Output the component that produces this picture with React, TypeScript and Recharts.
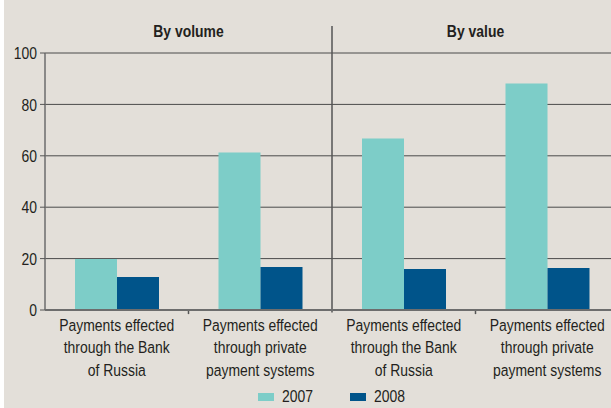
import type { FC } from "react"
import {
  Bar,
  BarChart,
  CartesianGrid,
  Legend,
  ReferenceLine,
  XAxis,
  YAxis,
} from "recharts"

const categories = [
  "Payments effected\nthrough the Bank\nof Russia",
  "Payments effected\nthrough private\npayment systems",
  "Payments effected\nthrough the Bank\nof Russia",
  "Payments effected\nthrough private\npayment systems",
]
const values2007 = [19.8, 61.3, 66.7, 88.1]
const values2008 = [12.8, 16.7, 16.0, 16.3]
const yTicks = [0, 20, 40, 60, 80, 100]
const groupLabels = ["By volume", "By value"]
const boundaryTicks = [1, 3]

// pos = category centre on a 0..4 scale, used by the helper axis
const data = categories.map((name, i) => ({
  name,
  pos: i + 0.5,
  y2007: values2007[i],
  y2008: values2008[i],
}))

const FONT = '"Liberation Sans", Arial, sans-serif'
const SQUEEZE = 0.82 // fake a condensed Helvetica
const TEXT = "#231f20"
const C2007 = "#7dcdc8"
const C2008 = "#00548a"

const series = [
  { key: "y2007", name: "2007", color: C2007 },
  { key: "y2008", name: "2008", color: C2008 },
]

const CategoryTick = (p: any) => {
  const lines = String(p.payload.value).split("\n")
  return (
    <g transform={`translate(${p.x},${p.y}) scale(${SQUEEZE},1)`}>
      <text x={0} y={0} textAnchor="middle" fill={TEXT} fontSize={17} fontFamily={FONT}>
        {lines.map((l, i) => (
          <tspan key={i} x={0} dy={i === 0 ? 21 : 22.5}>
            {l}
          </tspan>
        ))}
      </text>
    </g>
  )
}

const GroupTick = (p: any) => {
  const idx = p.payload.value < 2 ? 0 : 1
  return (
    <g transform={`translate(${p.x},${p.y - 16}) scale(${SQUEEZE},1)`}>
      <text x={0} y={0} textAnchor="middle" fill={TEXT} fontSize={17} fontWeight="bold" fontFamily={FONT}>
        {groupLabels[idx]}
      </text>
    </g>
  )
}

const ValueTick = (p: any) => (
  <g transform={`translate(${p.x},${p.y}) scale(${SQUEEZE},1)`}>
    <text x={0} y={0} dy="0.36em" textAnchor="end" fill={TEXT} fontSize={17} fontFamily={FONT}>
      {p.payload.value}
    </text>
  </g>
)

const LegendContent = () => (
  <div style={{ display: "flex", alignItems: "center", fontFamily: FONT, fontSize: 17, color: TEXT }}>
    {series.map((s, i) => (
      <div key={s.key} style={{ display: "flex", alignItems: "center", marginRight: i === 0 ? 37 : 0 }}>
        <span style={{ display: "inline-block", width: 16, height: 8, background: s.color, marginRight: 8 }} />
        <span style={{ display: "inline-block", transform: `scaleX(${SQUEEZE})`, transformOrigin: "left center", width: 31 }}>
          {s.name}
        </span>
      </div>
    ))}
  </div>
)

const App: FC = () => (
  <div style={{ position: "absolute", left: 0, top: 0, width: 611, height: 408, overflow: "hidden", background: "#ffffff" }}>
    <div style={{ position: "absolute", left: 4, top: 0, width: 607, height: 408, background: "#e3dfd9" }} />
    <div style={{ position: "absolute", left: 0, top: 0 }}>
      <BarChart
        width={620}
        height={408}
        data={data}
        margin={{ top: 0, right: 1, left: 0, bottom: 0 }}
        barGap={0}
        barCategoryGap={30}
      >
        <CartesianGrid vertical={false} stroke="#4a4a4a" strokeWidth={1} />
        <XAxis
          dataKey="name"
          height={98}
          interval={0}
          tickLine={false}
          tickSize={0}
          tickMargin={0}
          axisLine={{ stroke: "#6d6d6d", strokeWidth: 2 }}
          tick={CategoryTick}
        />
        <XAxis
          xAxisId="grp"
          dataKey="pos"
          orientation="top"
          type="number"
          domain={[0, 4]}
          allowDataOverflow
          ticks={[1, 3]}
          height={53}
          axisLine={false}
          tickLine={false}
          tickSize={0}
          tickMargin={0}
          tick={GroupTick}
        />
        <YAxis
          domain={[0, 100]}
          ticks={yTicks}
          width={45}
          tickSize={5}
          tickMargin={3}
          axisLine={{ stroke: "#6d6d6d", strokeWidth: 1.5 }}
          tickLine={{ stroke: "#555" }}
          tick={ValueTick}
        />
        <ReferenceLine
          xAxisId="grp"
          segment={[
            { x: 2, y: -1 },
            { x: 2, y: 110.5 },
          ]}
          stroke="#555"
          strokeWidth={1.5}
          ifOverflow="visible"
        />
        {boundaryTicks.map((b) => (
          <ReferenceLine
            key={b}
            xAxisId="grp"
            segment={[
              { x: b, y: -1.6 },
              { x: b, y: 0 },
            ]}
            stroke="#555"
            strokeWidth={1.5}
            ifOverflow="visible"
          />
        ))}
        {series.map((s) => (
          <Bar key={s.key} dataKey={s.key} name={s.name} fill={s.color} isAnimationActive={false} />
        ))}
        <Legend
          layout="horizontal"
          verticalAlign="middle"
          align="center"
          wrapperStyle={{ left: 258, top: 387, width: 170 }}
          content={LegendContent}
        />
      </BarChart>
    </div>
  </div>
)

export default App
